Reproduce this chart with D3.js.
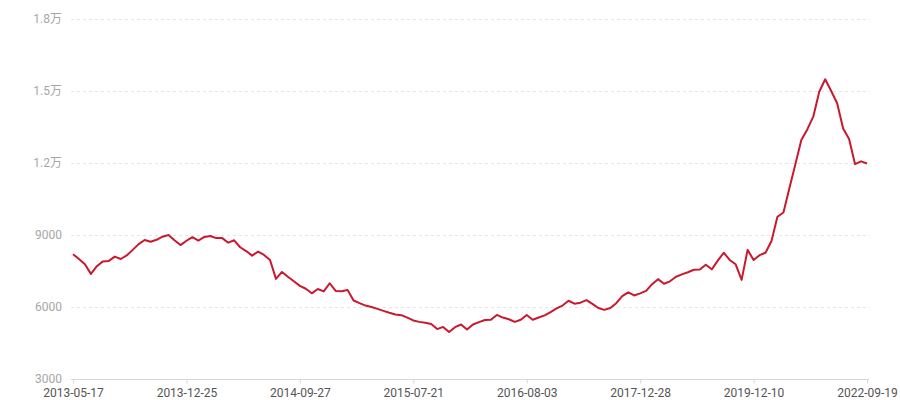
<!DOCTYPE html>
<html>
<head>
<meta charset="utf-8">
<script src="https://cdn.jsdelivr.net/npm/d3@7/dist/d3.min.js"></script>
<style>
  html, body { margin: 0; padding: 0; background: #fff; }
  svg { display: block; }
  text { font-family: Roboto, "Noto Sans CJK SC", sans-serif; font-size: 12px; }
</style>
</head>
<body>
<svg id="chart" width="900" height="400"></svg>
<script>
const values = [
  8200, 8000, 7780, 7380, 7700, 7900, 7920, 8100, 8000, 8150,
  8380, 8620, 8790, 8720, 8800, 8930, 9000, 8780, 8580, 8760,
  8910, 8770, 8920, 8960, 8870, 8870, 8680, 8780, 8490, 8330,
  8140, 8310, 8170, 7960, 7170, 7460, 7260, 7070, 6880, 6760,
  6570, 6750, 6650, 6990, 6670, 6660, 6710, 6270, 6160, 6060,
  6000, 5920, 5840, 5760, 5690, 5660, 5560, 5440, 5380, 5340,
  5290, 5080, 5170, 4960, 5160, 5270, 5060, 5270, 5370, 5460,
  5470, 5670, 5560, 5490, 5380, 5470, 5670, 5470, 5560, 5650,
  5790, 5940, 6060, 6260, 6140, 6180, 6290, 6130, 5960, 5880,
  5960, 6160, 6450, 6610, 6480, 6570, 6670, 6950, 7160, 6970,
  7070, 7260, 7360, 7450, 7550, 7560, 7760, 7570, 7930, 8260,
  7960, 7780, 7130, 8380, 7960, 8160, 8260, 8750, 9760, 9940,
  10950, 11950, 12960, 13400, 13930, 14970, 15490, 15000, 14490, 13440,
  13000, 11950, 12070, 11980
];
// Category labels shown on the x axis and the observation index they sit at
const xTickLabels = ["2013-05-17", "2013-12-25", "2014-09-27", "2015-07-21",
                     "2016-08-03", "2017-12-28", "2019-12-10", "2022-09-19"];
const xTickIndex = [0, 19, 38, 57, 76, 95, 114, 133];
// Y axis ticks and labels
const yTicks = [3000, 6000, 9000, 12000, 15000, 18000];
const yTickLabels = ["3000", "6000", "9000", "1.2万", "1.5万", "1.8万"];

const svg = d3.select("#chart");
const margin = { left: 73, right: 33, top: 19, bottom: 21 };
const W = 900, H = 400;

const x = d3.scalePoint()
  .domain(d3.range(values.length))
  .range([margin.left, W - margin.right]);
const y = d3.scaleLinear()
  .domain([3000, 18000])
  .range([H - margin.bottom, margin.top]);

// Grid lines (dashed)
const grid = svg.append("g");
grid.selectAll("line")
  .data(yTicks.filter(d => d !== 3000))
  .join("line")
  .attr("x1", margin.left - 2)
  .attr("x2", W - margin.right + 3)
  .attr("y1", d => Math.round(y(d)) + 0.5)
  .attr("y2", d => Math.round(y(d)) + 0.5)
  .attr("stroke", "#e6e6e6")
  .attr("stroke-width", 1)
  .attr("stroke-dasharray", "3,3");

// Y axis (labels only)
const yAxis = d3.axisLeft(y)
  .tickValues(yTicks)
  .tickSize(0)
  .tickPadding(11)
  .tickFormat((d, i) => yTickLabels[yTicks.indexOf(d)]);
const gy = svg.append("g")
  .attr("transform", `translate(${margin.left},0)`)
  .call(yAxis);
gy.select(".domain").remove();
gy.selectAll("text").attr("fill", "#a6a6a6").style("font-size", "12px");

// X axis
const xAxis = d3.axisBottom(x)
  .tickValues(xTickIndex)
  .tickSize(4)
  .tickPadding(5)
  .tickSizeOuter(0)
  .tickFormat(d => xTickLabels[xTickIndex.indexOf(d)]);
const gx = svg.append("g")
  .attr("transform", `translate(0,${Math.round(y(3000)) + 0.5})`)
  .call(xAxis);
gx.select(".domain")
  .attr("stroke", "#d9d9d9")
  .attr("d", `M${margin.left - 2},0H${W - margin.right + 2}`);
gx.selectAll(".tick line").attr("stroke", "#d9d9d9");
gx.selectAll("text").attr("fill", "#555").style("font-size", "12px");

// Line
const line = d3.line()
  .x((d, i) => x(i))
  .y(d => y(d));
svg.append("path")
  .datum(values)
  .attr("fill", "none")
  .attr("stroke", "#c8192e")
  .attr("stroke-width", 2)
  .attr("stroke-linejoin", "round")
  .attr("d", line);
</script>
</body>
</html>
